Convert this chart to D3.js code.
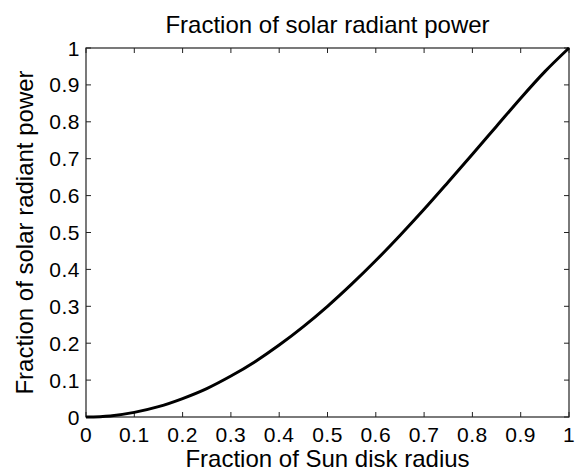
<!DOCTYPE html>
<html><head><meta charset="utf-8">
<script src="https://cdn.jsdelivr.net/npm/d3@7"></script>
<style>body{margin:0;background:#fff}svg{display:block}text{font-family:"Liberation Sans",Arial,sans-serif;fill:#000}</style>
</head><body><svg id="c" width="578" height="474"></svg>
<script>
const radiusFrac = [0,0.05,0.1,0.15,0.2,0.25,0.3,0.35,0.4,0.45,0.5,0.55,0.6,0.65,0.7,0.75,0.8,0.85,0.9,0.95,1];
const powerFrac  = [0,0.003,0.0125,0.028,0.05,0.077,0.111,0.15,0.195,0.245,0.30,0.36,0.424,0.492,0.563,0.637,0.712,0.788,0.864,0.936,1];
const xTicks = [0,0.1,0.2,0.3,0.4,0.5,0.6,0.7,0.8,0.9,1];
const yTicks = [0,0.1,0.2,0.3,0.4,0.5,0.6,0.7,0.8,0.9,1];
const titleText = "Fraction of solar radiant power";
const xLabel = "Fraction of Sun disk radius";
const yLabel = "Fraction of solar radiant power";

const L=86,R=569,T=48,B=417;
const svg=d3.select("#c");
const x=d3.scaleLinear().domain([0,1]).range([L,R]);
const y=d3.scaleLinear().domain([0,1]).range([B,T]);
const fmt=d=>d===0?"0":d===1?"1":d3.format(".1f")(d);

svg.append("rect").attr("x",L).attr("y",T).attr("width",R-L).attr("height",B-T).attr("fill","#fff").attr("stroke","#222").attr("stroke-width",1.2);

const tl=5, fs=21;
const gx=svg.append("g");
xTicks.forEach(t=>{
  gx.append("line").attr("x1",x(t)).attr("x2",x(t)).attr("y1",B).attr("y2",B-tl).attr("stroke","#222");
  gx.append("line").attr("x1",x(t)).attr("x2",x(t)).attr("y1",T).attr("y2",T+tl).attr("stroke","#222");
  gx.append("text").attr("x",x(t)).attr("y",B+25).attr("text-anchor","middle").attr("font-size",fs).attr("letter-spacing","0.5px").text(fmt(t));
});
const gy=svg.append("g");
yTicks.forEach(t=>{
  gy.append("line").attr("y1",y(t)).attr("y2",y(t)).attr("x1",L).attr("x2",L+tl).attr("stroke","#222");
  gy.append("line").attr("y1",y(t)).attr("y2",y(t)).attr("x1",R).attr("x2",R-tl).attr("stroke","#222");
  gy.append("text").attr("x",L-6).attr("y",y(t)+7.5).attr("text-anchor","end").attr("font-size",fs).attr("letter-spacing","0.5px").text(fmt(t));
});

const line=d3.line().x((d,i)=>x(radiusFrac[i])).y(d=>y(d)).curve(d3.curveMonotoneX);
svg.append("path").datum(powerFrac).attr("d",line).attr("fill","none").attr("stroke","#000").attr("stroke-width",3);

svg.append("text").attr("x",(L+R)/2).attr("y",33).attr("text-anchor","middle").attr("font-size",24).text(titleText);
svg.append("text").attr("x",(L+R)/2).attr("y",467).attr("text-anchor","middle").attr("font-size",24).text(xLabel);
svg.append("text").attr("transform",`translate(33,${(T+B)/2}) rotate(-90)`).attr("text-anchor","middle").attr("font-size",24).text(yLabel);
</script></body></html>
